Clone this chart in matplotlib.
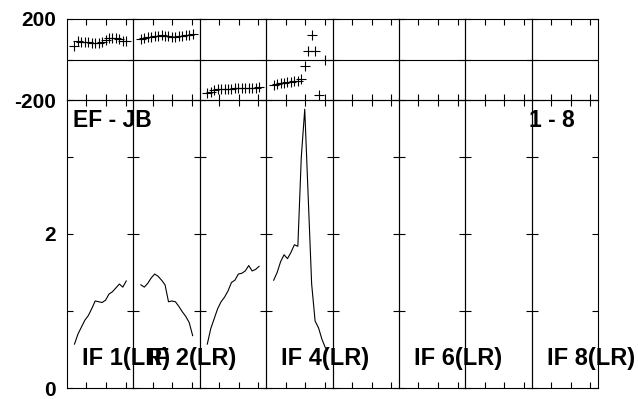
import matplotlib
matplotlib.use("Agg")
import matplotlib.pyplot as plt
import numpy as np

plt.rcParams['font.family'] = ['Liberation Sans', 'DejaVu Sans']
plt.rcParams['font.weight'] = 'bold'

# channel index inside each IF
chans = np.arange(1, 17)

# phase (deg) per IF, NaN = no point
phase = [
    [67, 91, 88, 85, 85, 83, 81, 83, 88, 96, 105, 108, 105, 100, 91, 93],
    [100, 105, 110, 113, 116, 118, 121, 116, 116, 113, 113, 116, 118, 121, 121, 124],
    [-164, -162, -152, -147, -145, -145, -144, -144, -143, -143, -142, -142, -141, -140, -140, -137],
    [-126, -121, -118, -115, -111, -110, -107, -105, -98, -32, 42, 121, 42, -175, np.nan, 0],
    [], [], [], [],
]

# amplitude per IF
amp = [
    [0.57, 0.70, 0.79, 0.88, 0.94, 1.03, 1.13, 1.12, 1.11, 1.14, 1.22, 1.25, 1.30, 1.35, 1.31, 1.39],
    [1.34, 1.31, 1.36, 1.43, 1.48, 1.45, 1.40, 1.34, 1.12, 1.13, 1.12, 1.06, 0.99, 0.93, 0.85, 0.68],
    [0.57, 0.77, 0.90, 1.03, 1.12, 1.18, 1.26, 1.37, 1.40, 1.48, 1.49, 1.52, 1.59, 1.52, 1.54, 1.58],
    [1.40, 1.50, 1.64, 1.73, 1.68, 1.76, 1.86, 1.84, 3.00, 3.62, 2.48, 1.35, 0.87, 0.78, 0.63, 0.52],
    [], [], [], [],
]

if_labels = ["IF 1(LR)", "IF 2(LR)", "", "IF 4(LR)", "", "IF 6(LR)", "", "IF 8(LR)"]
baseline = "EF - JB"
if_range = "1 - 8"

W, H = 638, 399
fig = plt.figure(figsize=(W / 100, H / 100), dpi=100)

x0, colw = 67, 66.4
top_y0, top_y1 = 19, 100
bot_y0, bot_y1 = 100, 388

def frac(px, py0, py1):
    return [px / W, 1 - py1 / H, colw / W, (py1 - py0) / H]

def style(ax):
    ax.patch.set_visible(False)
    ax.set_xlim(-1.17, 18.07)
    ax.set_xticks([4.48, 10.13, 15.79])
    ax.tick_params(direction='in', top=True, right=True, length=4, width=0.8,
                   labelbottom=False, labelleft=False, labelsize=15, pad=8)
    for s in ax.spines.values():
        s.set_linewidth(0.8)

for i in range(8):
    left = x0 + i * colw
    axp = fig.add_axes(frac(left, top_y0, top_y1))
    axa = fig.add_axes(frac(left, bot_y0, bot_y1))
    style(axp)
    style(axa)

    axp.set_ylim(-200, 200)
    axp.set_yticks([-200, 0, 200])
    axp.axhline(0, color='black', lw=0.8)
    if len(phase[i]):
        axp.plot(chans, phase[i], ls='none', marker='+', color='black', ms=6.5, mew=0.8)

    axa.set_ylim(0, 3.74)
    axa.set_yticks([0, 1, 2, 3])
    if len(amp[i]):
        axa.plot(chans, amp[i], color='black', lw=0.8)

    if if_labels[i]:
        axa.text(15 / colw, 0.104, if_labels[i], transform=axa.transAxes,
                 ha='left', va='center', fontsize=17, fontweight='bold', clip_on=False)

    if i == 0:
        axp.tick_params(labelleft=True)
        axp.set_yticklabels(["-200", "", "200"])
        axa.tick_params(labelleft=True)
        axa.set_yticklabels(["0", "", "2", ""])
        axa.text(6 / colw, 0.93, baseline, transform=axa.transAxes,
                 ha='left', va='center', fontsize=16.5, fontweight='bold', clip_on=False)
    if i == 7:
        axa.text(43 / colw, 0.93, if_range, transform=axa.transAxes,
                 ha='right', va='center', fontsize=16.5, fontweight='bold', clip_on=False)

fig.savefig('out.png', dpi=100)
